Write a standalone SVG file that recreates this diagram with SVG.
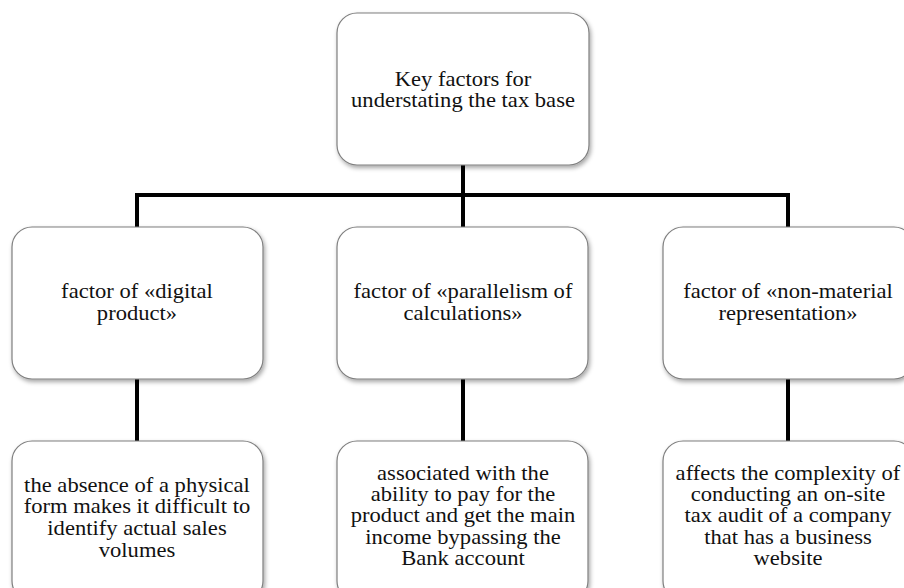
<svg xmlns="http://www.w3.org/2000/svg" width="904" height="588" viewBox="0 0 904 588">
<defs>
<filter id="sh" x="-10%" y="-10%" width="130%" height="130%">
<feDropShadow dx="1.5" dy="2.5" stdDeviation="2" flood-color="#000" flood-opacity="0.35"/>
</filter>
</defs>
<style>
.box{fill:#fff;stroke:#7f7f7f;stroke-width:1.2;filter:url(#sh)}
.t{font-family:"Liberation Serif","Times New Roman",serif;font-size:20px;fill:#111;text-anchor:middle}
.c{stroke:#000;stroke-width:4;fill:none}
</style>
<rect width="904" height="588" fill="#fff"/>
<g id="connectors">
<path class="c" d="M463 165 V227 M137 195 H790 M137 193 V227 M788 193 V227 M137 379 V441 M463 379 V441 M788 379 V441"/>
</g>
<g id="n0">
<rect class="box" x="337" y="13" width="252" height="152" rx="20"/>
<text class="t" transform="translate(463 86) scale(1.13 1)">Key factors for</text>
<text class="t" transform="translate(463 107) scale(1.13 1)">understating the tax base</text>
</g>
<g id="n1">
<rect class="box" x="12" y="227" width="251" height="152" rx="20"/>
<text class="t" transform="translate(137 298) scale(1.13 1)">factor of «digital</text>
<text class="t" transform="translate(137 320) scale(1.13 1)">product»</text>
</g>
<g id="n2">
<rect class="box" x="337" y="227" width="251" height="152" rx="20"/>
<text class="t" transform="translate(463 298) scale(1.13 1)">factor of «parallelism of</text>
<text class="t" transform="translate(463 320) scale(1.13 1)">calculations»</text>
</g>
<g id="n3">
<rect class="box" x="663" y="227" width="251" height="152" rx="20"/>
<text class="t" transform="translate(788 298) scale(1.13 1)">factor of «non-material</text>
<text class="t" transform="translate(788 320) scale(1.13 1)">representation»</text>
</g>
<g id="n4">
<rect class="box" x="12" y="441" width="251" height="160" rx="20"/>
<text class="t" transform="translate(137 492) scale(1.13 1)">the absence of a physical</text>
<text class="t" transform="translate(137 513) scale(1.13 1)">form makes it difficult to</text>
<text class="t" transform="translate(137 535) scale(1.13 1)">identify actual sales</text>
<text class="t" transform="translate(137 557) scale(1.13 1)">volumes</text>
</g>
<g id="n5">
<rect class="box" x="337" y="441" width="251" height="160" rx="20"/>
<text class="t" transform="translate(463 480) scale(1.13 1)">associated with the</text>
<text class="t" transform="translate(463 501) scale(1.13 1)">ability to pay for the</text>
<text class="t" transform="translate(463 522) scale(1.13 1)">product and get the main</text>
<text class="t" transform="translate(463 544) scale(1.13 1)">income bypassing the</text>
<text class="t" transform="translate(463 565) scale(1.13 1)">Bank account</text>
</g>
<g id="n6">
<rect class="box" x="663" y="441" width="251" height="160" rx="20"/>
<text class="t" transform="translate(788 480) scale(1.13 1)">affects the complexity of</text>
<text class="t" transform="translate(788 501) scale(1.13 1)">conducting an on-site</text>
<text class="t" transform="translate(788 522) scale(1.13 1)">tax audit of a company</text>
<text class="t" transform="translate(788 544) scale(1.13 1)">that has a business</text>
<text class="t" transform="translate(788 565) scale(1.13 1)">website</text>
</g>
</svg>
